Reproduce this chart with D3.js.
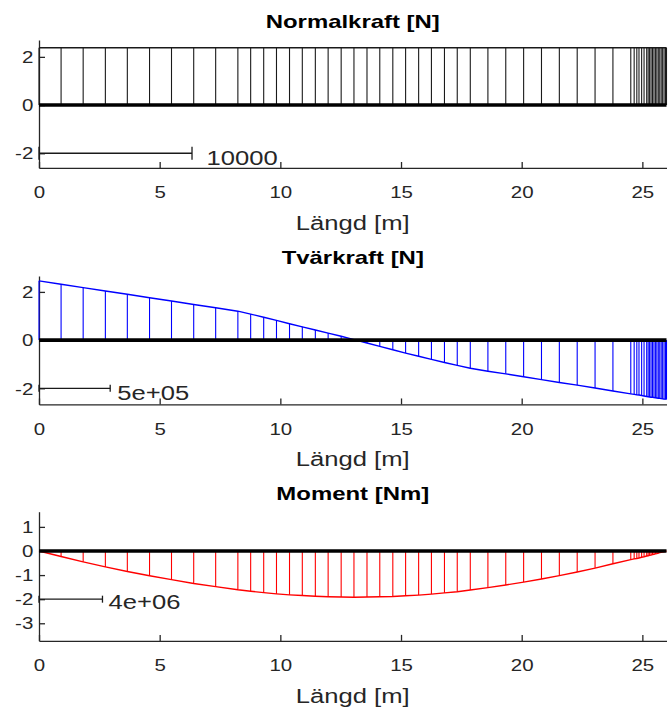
<!DOCTYPE html>
<html><head><meta charset="utf-8">
<script src="https://cdn.jsdelivr.net/npm/d3@7"></script>
<style>
body{margin:0;background:#fff;}
svg{display:block;font-family:"Liberation Sans",Arial,Helvetica,sans-serif;}
</style></head><body>
<svg id="chart" width="669" height="715"></svg>
<script>
// ---- data ----
const nodesX = [0, 0.915, 1.83, 2.75, 3.66, 4.58, 5.49, 6.41, 7.32, 8.24,
  8.77, 9.31, 9.84, 10.38, 10.91, 11.45, 11.98, 12.52, 13.05, 13.59, 14.12, 14.66, 15.19, 15.73, 16.26, 16.8, 17.33, 17.87,
  18.6, 19.34, 20.08, 20.82, 21.56, 22.3, 23.04, 23.78, 24.52,
  24.66, 24.77, 24.86, 24.97, 25.07, 25.18,
  25.24, 25.3, 25.36, 25.42, 25.48, 25.54, 25.6, 25.66, 25.72, 25.78, 25.84, 25.9, 25.96, 26.0];
const normalVals = [2.38, 2.38, 2.38, 2.38, 2.38, 2.38, 2.38, 2.38, 2.38, 2.38,
  2.38, 2.38, 2.38, 2.38, 2.38, 2.38, 2.38, 2.38, 2.38, 2.38, 2.38, 2.38, 2.38, 2.38, 2.38, 2.38, 2.38, 2.38,
  2.38, 2.38, 2.38, 2.38, 2.38, 2.38, 2.38, 2.38, 2.38,
  2.38, 2.38, 2.38, 2.38, 2.38, 2.38,
  2.38, 2.38, 2.38, 2.38, 2.38, 2.38, 2.38, 2.38, 2.38, 2.38, 2.38, 2.38, 2.38, 2.38];
const shearVals = [2.46, 2.32, 2.18, 2.04, 1.90, 1.76, 1.62, 1.48, 1.34, 1.20,
  1.08, 0.95, 0.82, 0.68, 0.55, 0.42, 0.29, 0.16, 0.02, -0.12, -0.26, -0.40, -0.54, -0.67, -0.80, -0.93, -1.05, -1.17,
  -1.29, -1.40, -1.52, -1.64, -1.76, -1.87, -1.99, -2.11, -2.23,
  -2.25, -2.27, -2.28, -2.30, -2.32, -2.34,
  -2.35, -2.36, -2.37, -2.37, -2.38, -2.39, -2.40, -2.41, -2.42, -2.43, -2.44, -2.45, -2.45, -2.46];
const momentVals = [0, -0.23, -0.45, -0.66, -0.85, -1.03, -1.19, -1.35, -1.48, -1.61,
  -1.67, -1.73, -1.78, -1.82, -1.85, -1.88, -1.90, -1.91, -1.92, -1.91, -1.90, -1.89, -1.86, -1.83, -1.79, -1.74, -1.69, -1.62,
  -1.52, -1.41, -1.29, -1.16, -1.02, -0.87, -0.71, -0.53, -0.36,
  -0.33, -0.31, -0.29, -0.26, -0.24, -0.21,
  -0.20, -0.18, -0.17, -0.15, -0.14, -0.12, -0.11, -0.09, -0.07, -0.06, -0.04, -0.03, -0.01, 0];
const xTicks = [0, 5, 10, 15, 20, 25];
const yTicksN = [-2, 0, 2];
const yTicksV = [-2, 0, 2];
const yTicksM = [-3, -2, -1, 0, 1];
const titles = ["Normalkraft [N]", "Tvärkraft [N]", "Moment [Nm]"];
const xLabel = "Längd [m]";
const scaleBarLengths = [6.34, 2.95, 2.63];
const scaleBarLabels = ["10000", "5e+05", "4e+06"];
const scaleBarLevel = -2;

// ---- layout ----
const PX = 24.1;
const AX = "#262626";
const SX = 1.28, SXB = 1.33;
const svg = d3.select("#chart");
svg.append("rect").attr("width", 669).attr("height", 715).attr("fill", "#fff");
const x = d3.scaleLinear().domain([0, 26]).range([39, 666.5]);

const panels = [
  {title: titles[0], values: normalVals, yTicks: yTicksN, ylim: [-2.61, 2.7], top: 40, color: "#1a1a1a", cap: 6.5, gap: 14.6, base: 12},
  {title: titles[1], values: shearVals, yTicks: yTicksV, ylim: [-2.67, 2.66], top: 276, color: "#0000ff", cap: 3.5, gap: 7.1, base: 11.2},
  {title: titles[2], values: momentVals, yTicks: yTicksM, ylim: [-3.73, 1.63], top: 511.7, color: "#ff0000", cap: 3.5, gap: 6.1, base: 10.3}
];

panels.forEach((p, i) => {
  const bottom = p.top + (p.ylim[1] - p.ylim[0]) * PX;
  const y = d3.scaleLinear().domain(p.ylim).range([bottom, p.top]);
  const g = svg.append("g");

  // x axis
  const xa = g.append("g").attr("transform", `translate(0,${bottom})`)
    .call(d3.axisBottom(x).tickValues(xTicks).tickSizeInner(-6).tickSizeOuter(0).tickFormat(d => String(d)));
  xa.select(".domain").attr("stroke", AX).attr("stroke-width", 1.3);
  xa.selectAll(".tick line").attr("stroke", AX).attr("stroke-width", 1.3);
  xa.selectAll(".tick text").attr("y", 0).attr("dy", 0)
    .attr("transform", "translate(0,30.5) scale(" + SX + ",1)")
    .attr("font-size", 16).attr("fill", AX).attr("font-family", null);

  // y axis
  const ya = g.append("g").attr("transform", `translate(${x(0)},0)`)
    .call(d3.axisLeft(y).tickValues(p.yTicks).tickSizeInner(-6).tickSizeOuter(0).tickFormat(d => String(d)));
  ya.select(".domain").attr("stroke", AX).attr("stroke-width", 1.3);
  ya.selectAll(".tick line").attr("stroke", AX).attr("stroke-width", 1.3);
  ya.selectAll(".tick text").attr("x", 0).attr("dy", 0).attr("y", 0)
    .attr("transform", "translate(-5.7,5.7) scale(" + SX + ",1)")
    .attr("font-size", 16).attr("fill", AX).attr("font-family", null);

  // vertical hatch lines
  g.append("g").selectAll("line").data(nodesX).join("line")
    .attr("x1", d => x(d)).attr("x2", d => x(d))
    .attr("y1", y(0)).attr("y2", (d, j) => y(p.values[j]))
    .attr("stroke", p.color).attr("stroke-width", 1.1);

  // outline
  g.append("path").datum(nodesX)
    .attr("d", d3.line().x(d => x(d)).y((d, j) => y(p.values[j])))
    .attr("fill", "none").attr("stroke", p.color).attr("stroke-width", 1.4);

  // zero line
  g.append("line").attr("x1", x(x.domain()[0])).attr("x2", x(x.domain()[1]))
    .attr("y1", y(0)).attr("y2", y(0)).attr("stroke", "#000").attr("stroke-width", 3.6);

  // scale bar
  const sb = g.append("g").attr("stroke", "#1a1a1a").attr("stroke-width", 1.3);
  const yb = y(scaleBarLevel), xe = x(scaleBarLengths[i]);
  sb.append("line").attr("x1", x(0)).attr("x2", xe).attr("y1", yb).attr("y2", yb);
  sb.append("line").attr("x1", x(0)).attr("x2", x(0)).attr("y1", yb - p.cap).attr("y2", yb + p.cap);
  sb.append("line").attr("x1", xe).attr("x2", xe).attr("y1", yb - p.cap).attr("y2", yb + p.cap);
  g.append("text").text(scaleBarLabels[i])
    .attr("transform", `translate(${xe + p.gap},${yb + p.base}) scale(${SX},1)`)
    .attr("font-size", 20).attr("fill", AX);

  // title
  g.append("text").text(p.title)
    .attr("transform", `translate(${(x.range()[0] + x.range()[1]) / 2},${p.top - 12}) scale(${SXB},1)`)
    .attr("text-anchor", "middle").attr("font-size", 18).attr("font-weight", "bold").attr("fill", "#000");

  // x label
  g.append("text").text(xLabel)
    .attr("transform", `translate(${(x.range()[0] + x.range()[1]) / 2},${bottom + 62}) scale(${SX},1)`)
    .attr("text-anchor", "middle").attr("font-size", 20).attr("fill", AX);
});
</script>
</body></html>
